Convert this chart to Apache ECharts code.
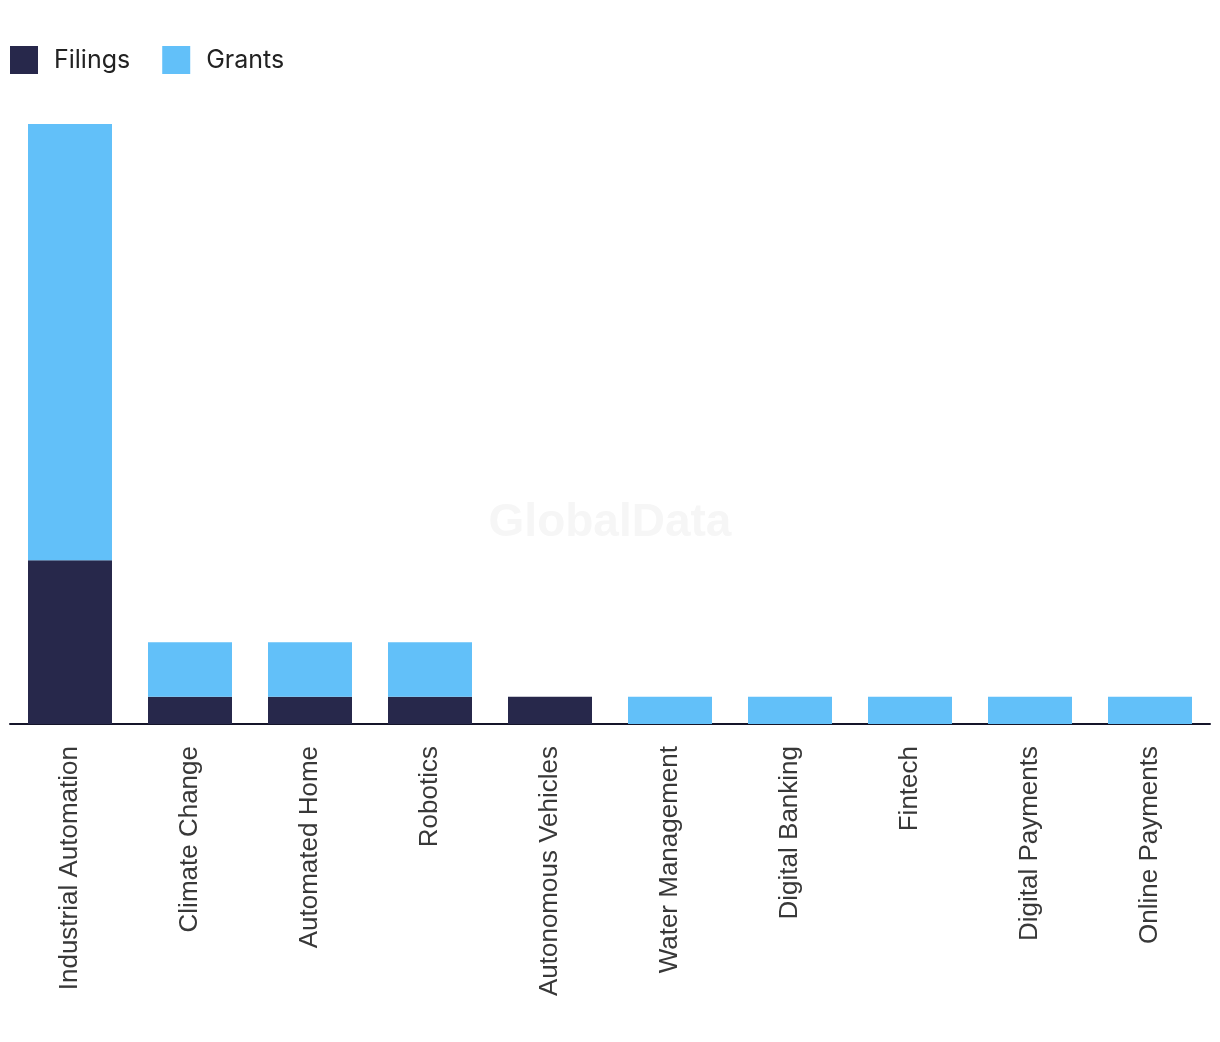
<!DOCTYPE html>
<html><head><meta charset="utf-8">
<script src="https://cdn.jsdelivr.net/npm/echarts@6/dist/echarts.min.js"></script>
<style>html,body{margin:0;padding:0;background:#fff}#c{width:1220px;height:1042px}</style>
</head><body><div id="c"></div>
<script>
const categories = ["Industrial Automation","Climate Change","Automated Home","Robotics","Autonomous Vehicles","Water Management","Digital Banking","Fintech","Digital Payments","Online Payments"];
const filings = [6,1,1,1,1,0,0,0,0,0];
const grants = [16,2,2,2,0,1,1,1,1,1];

const chart = echarts.init(document.getElementById('c'));
chart.setOption({
  animation:false,
  legend:{left:10, top:46, padding:0, itemWidth:28, itemHeight:28, itemGap:32, icon:'rect',
    textStyle:{fontFamily:'Inter', fontSize:25, color:'#222', padding:[0,0,0,11]},
    data:['Filings','Grants']},
  graphic:[{type:'text', left:'center', top:500, z:-1,
    style:{text:'GlobalData', font:'bold 46px "Liberation Sans", Arial', fill:'#f6f6f6'}}],
  grid:{left:10, right:10, top:124, bottom:318, containLabel:false},
  xAxis:{type:'category', data:categories,
    axisLine:{lineStyle:{color:'#15152a', width:2}},
    axisTick:{show:false},
    axisLabel:{rotate:90, margin:22, fontFamily:'Liberation Sans', fontSize:26, color:'#383838', interval:0}},
  yAxis:{type:'value', min:0, max:22, show:false, splitLine:{show:false}},
  series:[
    {name:'Filings', type:'bar', stack:'a', data:filings, barWidth:'70%', itemStyle:{color:'#27284b'}},
    {name:'Grants', type:'bar', stack:'a', data:grants, barWidth:'70%', itemStyle:{color:'#62c0f9'}}
  ]
});
</script></body></html>
